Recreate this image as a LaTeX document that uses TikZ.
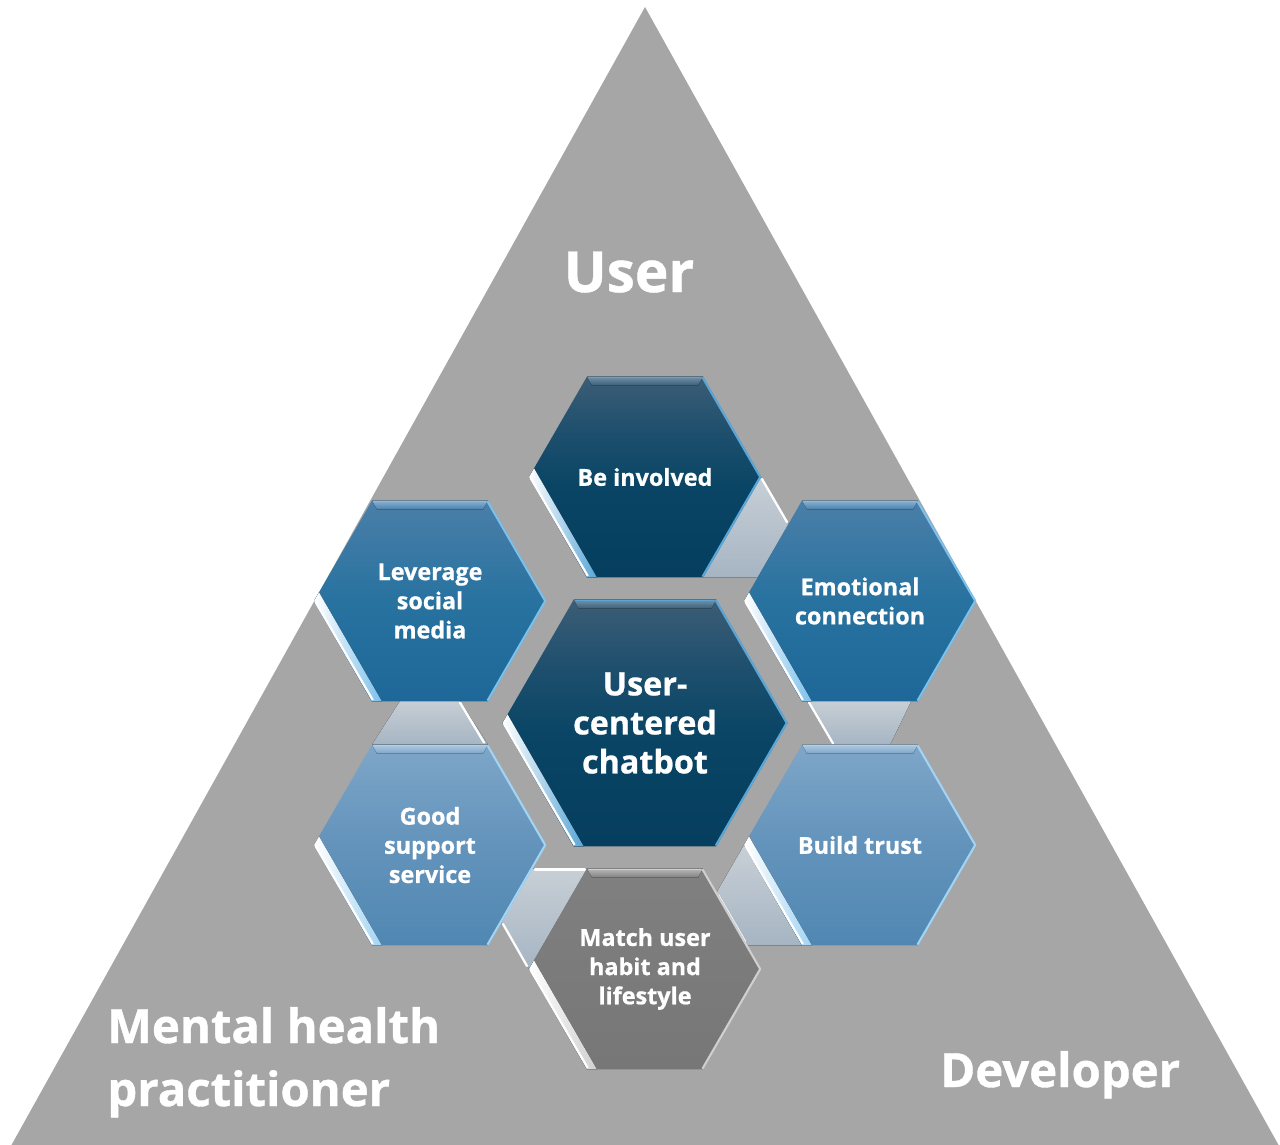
\documentclass[tikz,border=0pt]{standalone}
\usepackage{fontspec}
\setmainfont{Open Sans}[BoldFeatures={FakeBold=0.8}]
\usetikzlibrary{calc}

\definecolor{triGray}{HTML}{A6A6A6}
\definecolor{dkTop}{HTML}{3D5D76}
\definecolor{dkUp}{HTML}{1F506E}
\definecolor{dkMid}{HTML}{0A4565}
\definecolor{dkBot}{HTML}{053E5E}
\definecolor{dkHi}{HTML}{7193AC}
\definecolor{dkRim}{HTML}{5AA6D6}
\definecolor{mdTop}{HTML}{4A7FA8}
\definecolor{mdMid}{HTML}{2872A0}
\definecolor{mdBot}{HTML}{1D6898}
\definecolor{mdHi}{HTML}{8AB3D4}
\definecolor{mdRim}{HTML}{7CC0EC}
\definecolor{ltTop}{HTML}{7EA6C8}
\definecolor{ltMid}{HTML}{6393BB}
\definecolor{ltBot}{HTML}{5088B3}
\definecolor{ltHi}{HTML}{AECAE2}
\definecolor{ltRim}{HTML}{A2D4F3}
\definecolor{gyTop}{HTML}{808080}
\definecolor{gyMid}{HTML}{7B7B7B}
\definecolor{gyBot}{HTML}{777777}
\definecolor{gyHi}{HTML}{B8B8B8}
\definecolor{gyRim}{HTML}{D0D0D0}
\definecolor{bandTop}{HTML}{C8CFD6}
\definecolor{bandBot}{HTML}{A6B5C3}

% body shadings, bottom to top; the path spans 25bp..75bp of each
\pgfdeclareverticalshading{dkShade}{100bp}{color(0bp)=(dkBot); color(25bp)=(dkBot); color(48bp)=(dkMid); color(62bp)=(dkUp); color(75bp)=(dkTop); color(100bp)=(dkTop)}
\pgfdeclareverticalshading{mdShade}{100bp}{color(0bp)=(mdBot); color(25bp)=(mdBot); color(50bp)=(mdMid); color(75bp)=(mdTop); color(100bp)=(mdTop)}
\pgfdeclareverticalshading{ltShade}{100bp}{color(0bp)=(ltBot); color(25bp)=(ltBot); color(50bp)=(ltMid); color(75bp)=(ltTop); color(100bp)=(ltTop)}
\pgfdeclareverticalshading{gyShade}{100bp}{color(0bp)=(gyBot); color(25bp)=(gyBot); color(50bp)=(gyMid); color(75bp)=(gyTop); color(100bp)=(gyTop)}

\pgfdeclarelayer{bottom}
\pgfdeclarelayer{bands}
\pgfsetlayers{bottom,bands,main}

\tikzset{
  hextext/.style={text=white, font=\bfseries\fontsize{13.3}{16.6}\selectfont, align=center, inner sep=0pt},
  hubtext/.style={text=white, font=\bfseries\fontsize{18.4}{22.2}\selectfont, align=center, inner sep=0pt},
  roletext/.style={text=white, font=\bfseries\fontsize{26.9}{35.8}\selectfont, inner sep=0pt},
  usertext/.style={text=white, font=\bfseries\fontsize{32.3}{38}\selectfont, inner sep=0pt},
  bandfill/.style={top color=bandTop, bottom color=bandBot},
  bandglint/.style={draw=white, line width=1.3pt, line cap=round},
}

% Bevelled hexagon: #1 name, #2 centre, #3 circumradius, #4 palette, #5 text style, #6 text
\newcommand\hexcell[6]{%
  \begin{scope}[shift={#2}]
    \coordinate (#1-l)  at ({-#3},0);
    \coordinate (#1-tl) at ({-#3/2},{-0.866*#3});
    \coordinate (#1-tr) at ({#3/2},{-0.866*#3});
    \coordinate (#1-r)  at ({#3},0);
    \coordinate (#1-br) at ({#3/2},{0.866*#3});
    \coordinate (#1-bl) at ({-#3/2},{0.866*#3});
  \end{scope}
  \shade[shading=#4Shade]
    (#1-l) -- (#1-tl) -- (#1-tr) -- (#1-r) -- (#1-br) -- (#1-bl) -- cycle;
  % top bevel
  \fill[top color=#4Hi, bottom color=#4Top]
    (#1-tl) -- (#1-tr) -- ($(#1-tr)+(-5,9)$) -- ($(#1-tl)+(5,9)$) -- cycle;
  \draw[#4Rim, line width=0.8pt] ($(#1-tl)+(2,1)$) -- ($(#1-tr)+(-2,1)$);
  % lower-left bevel
  \fill[left color=white, right color=#4Rim]
    (#1-l) -- (#1-bl) -- ($(#1-bl)+(10,0)$) -- ($(#1-l)+(5,-8.7)$) -- cycle;
  \draw[white, line width=1.2pt] ($(#1-l)+(1.5,1)$) -- ($(#1-bl)+(0.8,-1.5)$);
  % right rims
  \draw[#4Rim, line width=1.2pt, line join=round]
    ($(#1-tr)+(-0.5,0.8)$) -- ($(#1-r)+(-0.8,0)$) -- ($(#1-br)+(-0.5,-0.8)$);
  \node[#5] (#1) at #2 {#6};
}

\begin{document}
\begin{tikzpicture}[x=0.02cm, y=-0.02cm]
\useasboundingbox (0,0) rectangle (1280,1144);

% pyramid of the three roles
\begin{pgfonlayer}{bottom}
  \begin{scope}
    \clip (0,0) rectangle (1280,1144);
    \fill[triGray] (645,7) -- (1288,1162) -- (2,1162) -- cycle;
  \end{scope}
  \node[usertext, anchor=base] (user) at (629,292) {User};
  \node[roletext, anchor=base west] (mhp1) at (107,1043) {Mental health};
  \node[roletext, anchor=base west] (mhp2) at (107,1106) {practitioner};
  \node[roletext, anchor=base west] (dev) at (940,1087) {Developer};
\end{pgfonlayer}

% hexagon cluster
\hexcell{inv}{(645,477)}{116}{dk}{hextext}{Be involved}
\hexcell{hub}{(645,723)}{142.5}{dk}{hubtext}{User-\\centered\\chatbot}
\hexcell{soc}{(430,601)}{116}{md}{hextext}{Leverage\\social\\media}
\hexcell{emo}{(860,601)}{116}{md}{hextext}{Emotional\\connection}
\hexcell{sup}{(430,845)}{116}{lt}{hextext}{Good\\support\\service}
\hexcell{tru}{(860,845)}{116}{lt}{hextext}{Build trust}
\hexcell{hab}{(645,969)}{116}{gy}{hextext}{Match user\\habit and\\lifestyle}

% links between neighbouring hexagons
\begin{pgfonlayer}{bands}
  % Be involved -> Emotional connection
  \fill[bandfill] (inv-r) -- ($(inv-r)+(27.3,47.3)$) -- ($(inv-br)+(54.6,0)$) -- (inv-br) -- cycle;
  \draw[bandglint] ($(inv-r)+(1,2)$) -- ($(inv-r)+(26,45)$);
  % Emotional connection -> Build trust
  \fill[bandfill] ($(emo-bl)+(4,-2)$) -- ($(emo-br)+(-6,-2)$) -- ($(emo-br)+(-28,43.5)$) -- ($(emo-bl)+(31,43.5)$) -- cycle;
  \draw[bandglint] ($(emo-bl)+(7,1)$) -- ($(emo-bl)+(31,42)$);
  % Build trust -> Match user habit
  \fill[bandfill] (tru-l) -- ($(tru-l)+(-27.3,47.3)$) -- ($(tru-bl)+(-54.6,0)$) -- (tru-bl) -- cycle;
  \draw[bandglint] ($(tru-l)+(-26,50)$) -- ($(tru-bl)+(-57,-4)$);
  % Match user habit -> Good support service
  \fill[bandfill] ($(hab-tl)+(-54.6,0)$) -- (hab-tl) -- (hab-l) -- ($(hab-l)+(-27.3,-47.3)$) -- cycle;
  \draw[bandglint] ($(hab-tl)+(-52,1)$) -- ($(hab-tl)+(-2,1)$);
  \draw[bandglint] ($(hab-l)+(-26,-45)$) -- ($(hab-l)+(-2,-3)$);
  % Good support service -> Leverage social media
  \fill[bandfill] (sup-tl) -- (sup-tr) -- ($(sup-tr)+(-29,-45)$) -- ($(sup-tl)+(29,-45)$) -- cycle;
  \draw[bandglint] ($(sup-tr)+(-28,-42)$) -- ($(sup-tr)+(-4,-2)$);
\end{pgfonlayer}
\end{tikzpicture}
\end{document}
